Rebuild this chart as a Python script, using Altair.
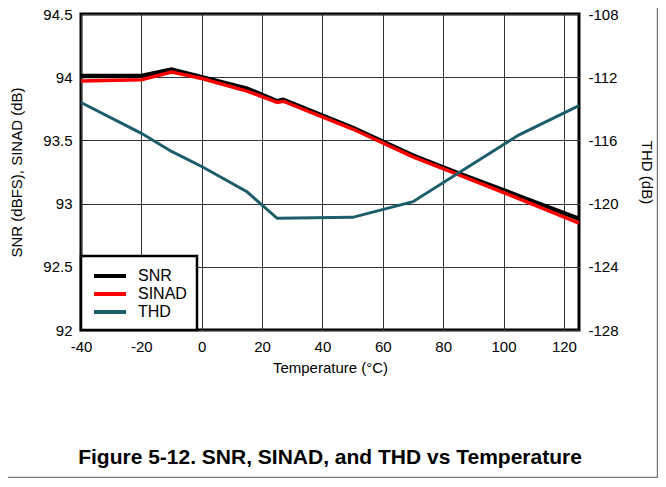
import altair as alt
import pandas as pd

# ---- data ----
temp_snr = [-40, -20, -10, 0, 15, 25, 27, 50, 70, 85, 105, 125]
snr = [94.01, 94.01, 94.06, 94.0, 93.91, 93.81, 93.82, 93.6, 93.38, 93.24, 93.06, 92.88]
sinad = [93.97, 93.98, 94.04, 93.99, 93.89, 93.80, 93.81, 93.59, 93.37, 93.23, 93.04, 92.845]

temp_thd = [-40, -20, -10, 0, 15, 25, 50, 70, 105, 125]
thd = [-113.6, -115.55, -116.7, -117.65, -119.25, -120.93, -120.87, -119.88, -115.66, -113.8]

series = ["SNR", "SINAD", "THD"]
colors = ["#000000", "#ff0000", "#1d5c6b"]

x_ticks = [-40, -20, 0, 20, 40, 60, 80, 100, 120]
left_ticks = [92, 92.5, 93, 93.5, 94, 94.5]
right_ticks = [-128, -124, -120, -116, -112, -108]

df_snr = pd.DataFrame({"Temperature": temp_snr, "value": snr, "series": "SNR"})
df_sinad = pd.DataFrame({"Temperature": temp_snr, "value": sinad, "series": "SINAD"})
df_thd = pd.DataFrame({"Temperature": temp_thd, "value": thd, "series": "THD"})

FONT = "Liberation Sans"

x_enc = alt.X(
    "Temperature:Q",
    scale=alt.Scale(domain=[-40, 125], nice=False, zero=False),
    axis=alt.Axis(
        values=x_ticks, title="Temperature (°C)", grid=True, gridColor="#333333",
        gridWidth=1, ticks=False, domain=False, labelPadding=9, titlePadding=6,
        labelFlush=False, labelExpr="'' + datum.value",
        labelFontSize=15, titleFontSize=15, titleFontWeight="normal",
    ),
)

color_enc = alt.Color(
    "series:N",
    scale=alt.Scale(domain=series, range=colors),
    legend=alt.Legend(
        title=None, orient="none", legendX=0, legendY=242,
        strokeColor="black", fillColor="white",
        padding=10, symbolType="M-2,0L2,0", symbolStrokeWidth=4, symbolSize=256,
        symbolFillColor="transparent", symbolOffset=9,
        labelFontSize=16, labelFont=FONT, labelOffset=18, rowPadding=-0.5,
        labelColor="black",
    ),
)

left_y = alt.Y(
    "value:Q",
    scale=alt.Scale(domain=[92, 94.5], nice=False, zero=False),
    axis=alt.Axis(
        values=left_ticks, title="SNR (dBFS), SINAD (dB)", grid=True,
        gridColor="#333333", gridWidth=1, ticks=False, domain=False,
        labelPadding=9, titlePadding=18, labelExpr="'' + datum.value",
        labelFontSize=15, titleFontSize=15, titleFontWeight="normal",
    ),
)

right_y = alt.Y(
    "value:Q",
    scale=alt.Scale(domain=[-128, -108], nice=False, zero=False),
    axis=alt.Axis(
        orient="right", values=right_ticks, title="THD (dB)", grid=False,
        ticks=False, domain=False, labelPadding=9, titlePadding=20,
        labelExpr="'' + datum.value", labelFontSize=15, titleFontSize=15,
        titleFontWeight="normal",
    ),
)

snr_line = alt.Chart(df_snr).mark_line(strokeWidth=4.5).encode(x=x_enc, y=left_y, color=color_enc)
sinad_line = alt.Chart(df_sinad).mark_line(strokeWidth=3.5).encode(x=x_enc, y=left_y, color=color_enc)
left = alt.layer(snr_line, sinad_line)

thd_line = alt.Chart(df_thd).mark_line(strokeWidth=3).encode(x=x_enc, y=right_y, color=color_enc)

# decorative figure frame (right and bottom edges)
frame_df = pd.DataFrame({"k": [0]})
frame_right = alt.Chart(frame_df).mark_rule(color="#777777", strokeWidth=1.5).encode(
    x=alt.value(576.5), y=alt.value(-20), y2=alt.value(464)
)
frame_bottom = alt.Chart(frame_df).mark_rule(color="#777777", strokeWidth=1.5).encode(
    x=alt.value(-80), x2=alt.value(577), y=alt.value(463.5)
)

chart = (
    alt.layer(left, thd_line, frame_right, frame_bottom)
    .resolve_scale(y="independent")
    .properties(
        width=498,
        height=316,
        background="white",
        autosize=alt.AutoSizeParams(type="none"),
        padding={"left": 73, "top": 6, "right": 79, "bottom": 148},
        title=alt.Title(
            "Figure 5-12. SNR, SINAD, and THD vs Temperature",
            orient="bottom", offset=-31.5, fontSize=21, font=FONT,
            fontWeight="bold", color="black", anchor="middle",
        ),
    )
    .configure_view(stroke="black", strokeWidth=3)
    .configure_axis(labelFont=FONT, titleFont=FONT, labelColor="black", titleColor="black")
    .configure_legend(strokeWidth=2.5)
)

chart.save("out.html", embed_options={"renderer": "svg", "actions": False})
